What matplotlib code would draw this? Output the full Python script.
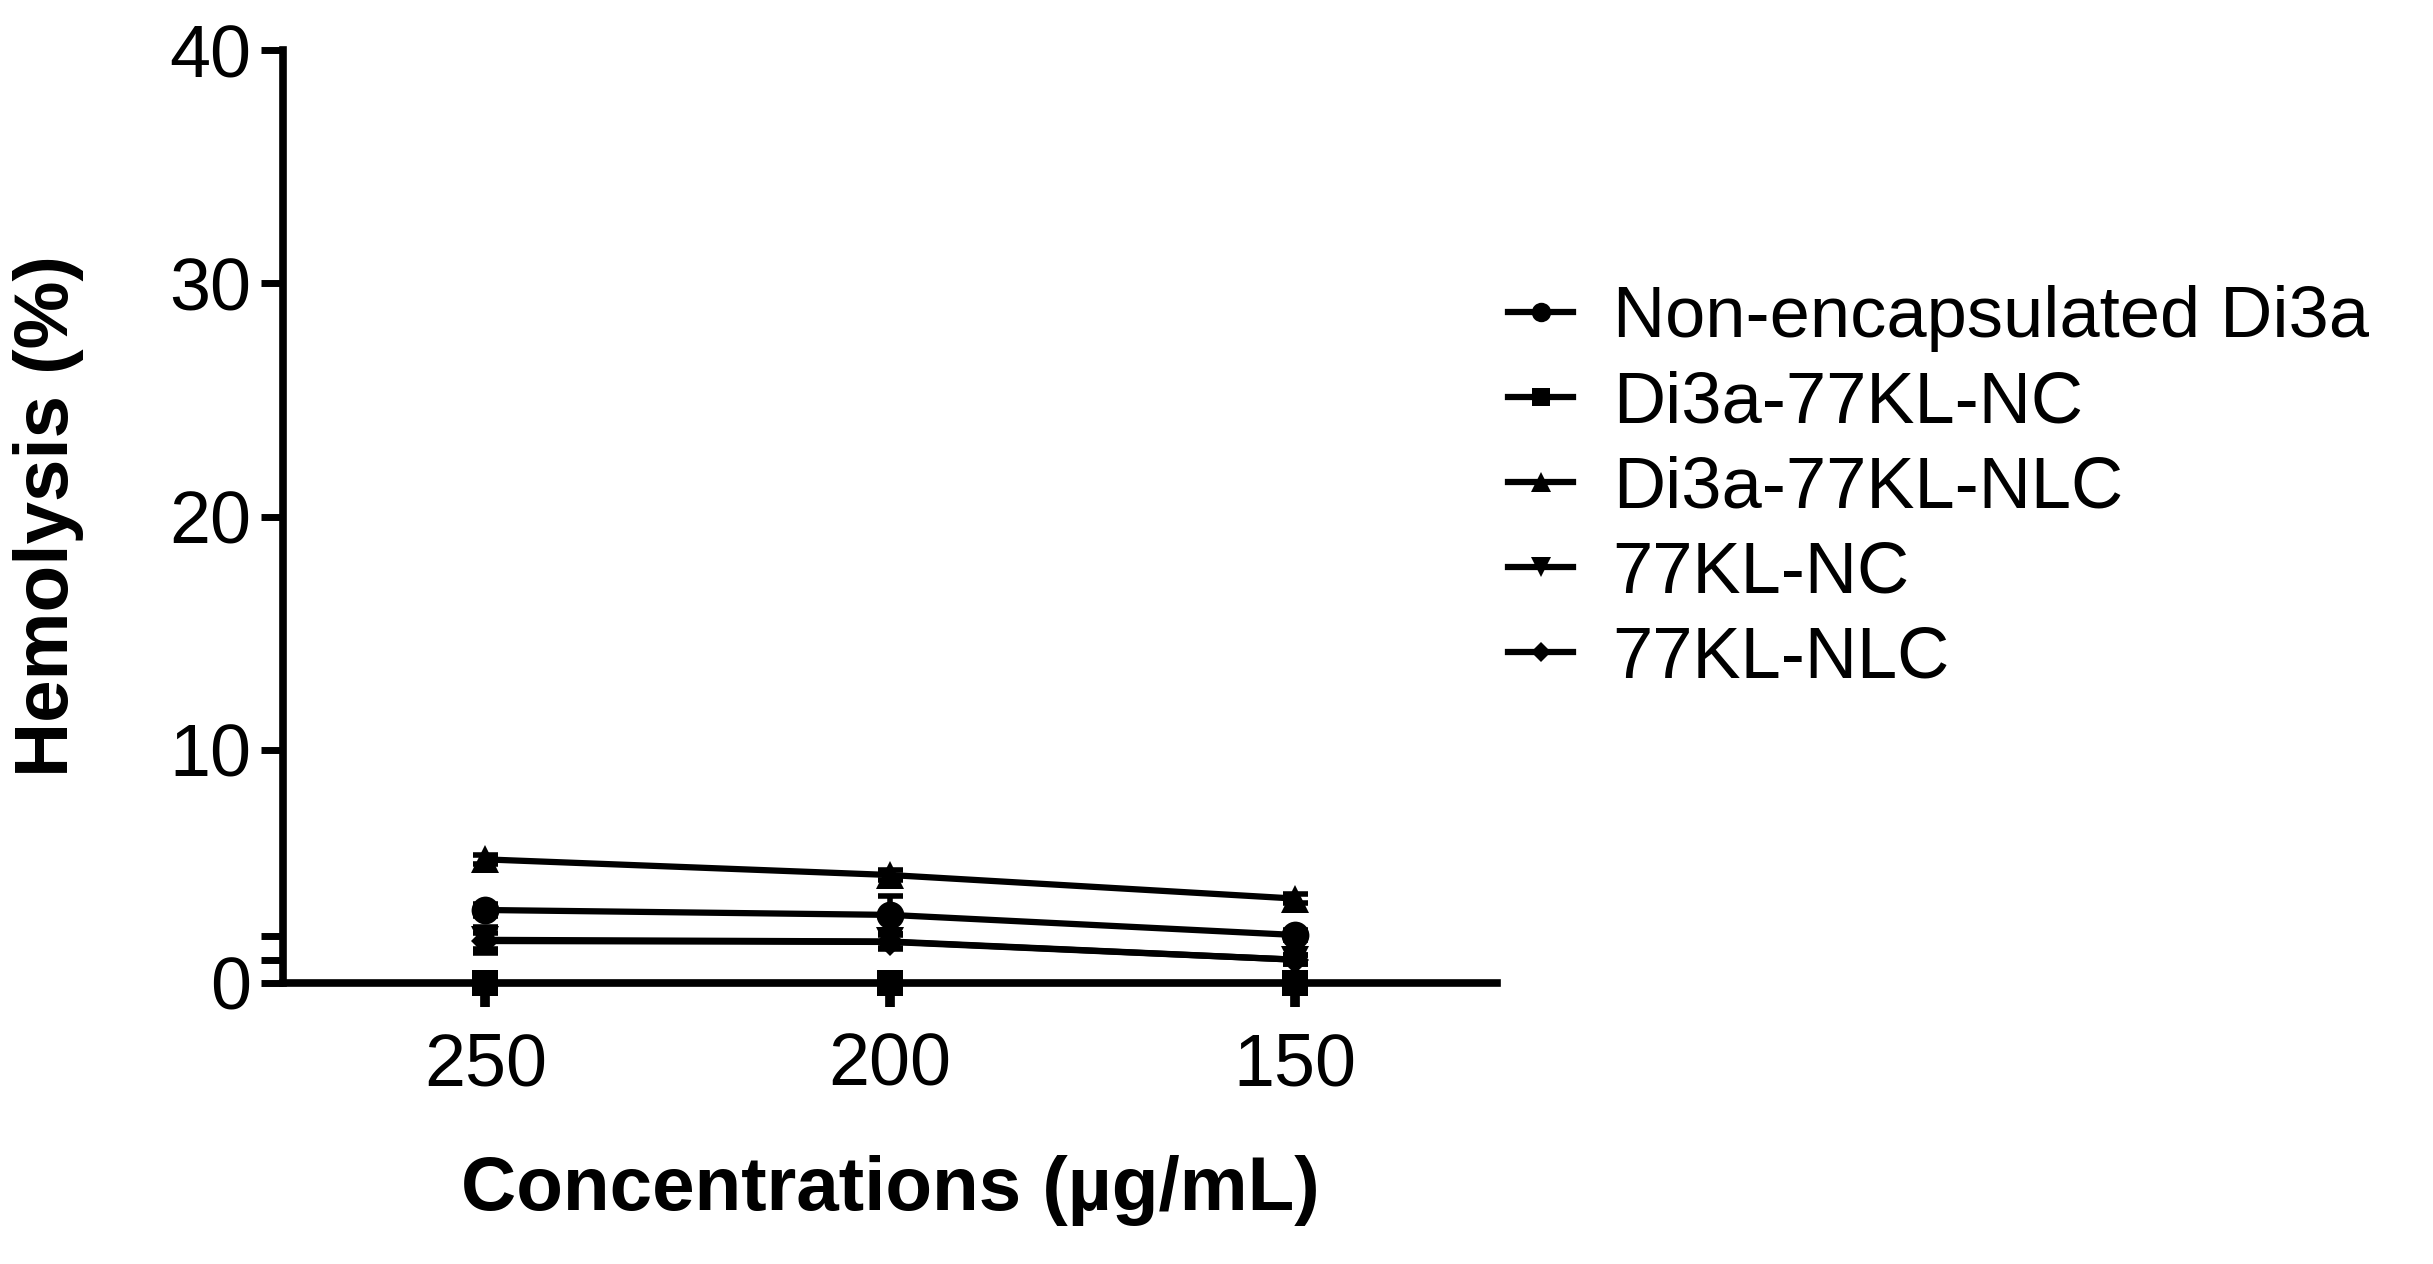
import matplotlib
matplotlib.use('Agg')
import matplotlib.pyplot as plt
from matplotlib.lines import Line2D

plt.rcParams['font.family'] = ['Liberation Sans', 'DejaVu Sans']

# ---- data ----
concentrations = ['250', '200', '150']
series_names = ['Non-encapsulated Di3a', 'Di3a-77KL-NC', 'Di3a-77KL-NLC', '77KL-NC', '77KL-NLC']
non_encap = [3.13, 2.92, 2.06]
non_encap_err = [0.25, 0.80, 0.20]
di3a_nc = [0.0, 0.0, 0.0]
di3a_nc_err = [0.0, 0.0, 0.0]
di3a_nlc = [5.30, 4.63, 3.62]
di3a_nlc_err = [0.20, 0.20, 0.20]
kl_nc = [1.85, 1.78, 1.00]
kl_nc_err = [0.55, 0.30, 0.20]
kl_nlc = [1.80, 1.76, 1.00]
kl_nlc_err = [0.35, 0.30, 0.20]

y_ticks = [0, 1, 2, 10, 20, 30, 40]
y_ticklabels = ['0', '', '', '10', '20', '30', '40']

values = [non_encap, di3a_nc, di3a_nlc, kl_nc, kl_nlc]
errors = [non_encap_err, di3a_nc_err, di3a_nlc_err, kl_nc_err, kl_nlc_err]
markers = ['o', 's', '^', 'v', 'D']
msizes = [20, 19, 20, 20, 14]

fig = plt.figure(figsize=(24.33, 12.64), dpi=100)
W, H = 2433, 1264
ax_l, ax_r, ax_t, ax_b = 283, 1497, 50, 983
ax = fig.add_axes([ax_l / W, 1 - ax_b / H, (ax_r - ax_l) / W, (ax_b - ax_t) / H])

x = list(range(len(concentrations)))
handles = []
for name, v, e, m, ms in zip(series_names, values, errors, markers, msizes):
    ax.errorbar(x, v, yerr=e, fmt='none', ecolor='black', elinewidth=4,
                capsize=9, capthick=4, clip_on=False, zorder=3)
    ax.plot(x, v, color='black', lw=4.5, marker=m, markersize=ms,
            markeredgewidth=0, clip_on=False, zorder=4)
    handles.append(Line2D([], [], color='black', lw=4.5, marker=m,
                          markersize=ms * 0.7, markeredgewidth=0))

ax.set_xlim(-0.5, 2.5)
ax.set_ylim(0, 40)
ax.set_xticks(x)
ax.set_xticklabels(concentrations)
ax.set_yticks(y_ticks)
ax.set_yticklabels(y_ticklabels)

for s in ['top', 'right']:
    ax.spines[s].set_visible(False)
for s in ['left', 'bottom']:
    ax.spines[s].set_linewidth(5.5)
    ax.spines[s].set_capstyle('projecting')

ax.tick_params(axis='y', length=16, width=5, labelsize=53, pad=7)
ax.tick_params(axis='x', length=17, width=7, labelsize=53, pad=18)

ax.set_ylabel('Hemolysis (%)', fontsize=55, fontweight='bold')
ax.yaxis.set_label_coords((84 - ax_l) / (ax_r - ax_l), 0.5)
ax.set_xlabel('Concentrations (µg/mL)', fontsize=55, fontweight='bold')
ax.xaxis.set_label_coords(0.5, (ax_b - 1155) / (ax_b - ax_t))

fig.legend(handles=handles, labels=series_names, loc='upper left',
           bbox_to_anchor=(1508 / W, 1 - 285 / H), frameon=False,
           fontsize=52, handlelength=0.9, handletextpad=0.55,
           labelspacing=0.25, borderpad=0, borderaxespad=0)

fig.savefig('out.png', dpi=100)
